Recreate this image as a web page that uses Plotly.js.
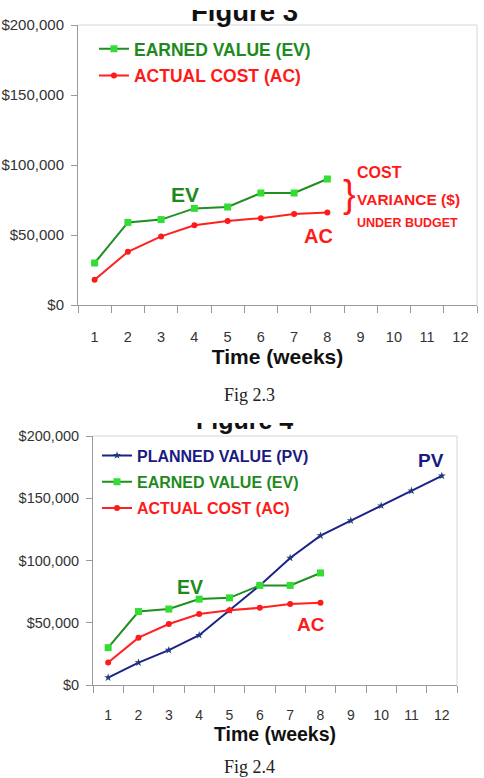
<!DOCTYPE html>
<html>
<head>
<meta charset="utf-8">
<script src="https://cdn.plot.ly/plotly-3.0.1.min.js"></script>
<style>
  html, body { margin: 0; padding: 0; background: #fff; }
  #fig3 { position: absolute; left: 0; top: 10px; width: 484px; height: 402px; overflow: hidden; }
  #fig4 { position: absolute; left: 0; top: 423px; width: 484px; height: 355px; overflow: hidden; }
</style>
</head>
<body>
<div id="fig3"></div>
<div id="fig4"></div>
<script>
// Weekly project cost tracking data
const weeks = ['1', '2', '3', '4', '5', '6', '7', '8', '9', '10', '11', '12'];
const evWeeks = ['1', '2', '3', '4', '5', '6', '7', '8'];
const plannedValue = [6000, 18000, 28000, 40000, 60000, 80000, 102000, 120000, 132000, 144000, 156000, 168000];
const earnedValue = [30000, 59000, 61000, 69000, 70000, 80000, 80000, 90000];
const actualCost = [18000, 38000, 49000, 57000, 60000, 62000, 65000, 66000];
const yTicks = [0, 50000, 100000, 150000, 200000];

const SANS = "'Liberation Sans', Arial, sans-serif";
const SERIF = "'Liberation Serif', 'Times New Roman', serif";
const GREEN_TXT = '#1e8a1e';
const RED = '#ff1a1a';
const NAVY = '#1a1a80';

function evTrace(name) {
  return {
    x: evWeeks, y: earnedValue, type: 'scatter', mode: 'lines+markers',
    name: '<span style="color:' + GREEN_TXT + '">' + name + '</span>', legendgroup: 'ev',
    line: { color: '#1f8f1f', width: 2 },
    marker: { symbol: 'square', size: 7, color: '#33dd33', line: { width: 0 } }
  };
}
function acTrace(name) {
  return {
    x: evWeeks, y: actualCost, type: 'scatter', mode: 'lines+markers',
    name: '<span style="color:' + RED + '">' + name + '</span>', legendgroup: 'ac',
    line: { color: '#ff2020', width: 2 },
    marker: { symbol: 'circle', size: 6, color: '#ff1a1a' }
  };
}
function pvTrace(name) {
  return {
    x: weeks, y: plannedValue, type: 'scatter', mode: 'lines+markers',
    name: '<span style="color:' + NAVY + '">' + name + '</span>', legendgroup: 'pv',
    line: { color: '#1c2386', width: 2 },
    marker: { symbol: 'star', size: 6, color: '#1c3c7a' }
  };
}

function baseAxes(tickSize, yTickSize, titleSize, labelStandoff, titleStandoff) {
  return {
    xaxis: {
      type: 'category', categoryorder: 'array', categoryarray: weeks,
      range: [-0.5, 11.5], tickson: 'boundaries',
      ticks: 'outside', ticklen: 7, tickcolor: '#999', tickwidth: 1,
      showline: true, linecolor: '#999', linewidth: 1,
      showgrid: false, zeroline: false, fixedrange: true,
      ticklabelstandoff: labelStandoff,
      tickfont: { family: SANS, size: tickSize, color: '#333' },
      title: { text: 'Time (weeks)', standoff: titleStandoff,
               font: { family: SANS, size: titleSize, color: '#111', weight: 'bold' } }
    },
    yaxis: {
      range: [0, 200000], tickvals: yTicks, tickformat: '$,.0f',
      ticks: 'outside', ticklen: 6, tickcolor: '#999', tickwidth: 1,
      showline: true, linecolor: '#999', linewidth: 1,
      showgrid: false, zeroline: false, fixedrange: true,
      ticklabelstandoff: 4,
      tickfont: { family: SANS, size: yTickSize, color: '#333' }
    }
  };
}

function frameShapes() {
  return [
    { type: 'line', xref: 'paper', yref: 'paper', x0: 0, x1: 1, y0: 1, y1: 1, line: { color: '#d6d6d6', width: 1 } },
    { type: 'line', xref: 'paper', yref: 'paper', x0: 1, x1: 1, y0: 0, y1: 1, line: { color: '#d6d6d6', width: 1 } }
  ];
}

function textNote(text, x, y, size, color, opts) {
  return Object.assign({
    text: text, x: x, y: y, xref: 'x', yref: 'y', showarrow: false,
    font: { family: SANS, size: size, color: color, weight: 'bold' }
  }, opts || {});
}

// Figure 3: earned value vs actual cost
const axes3 = baseAxes(14.5, 15, 21, 19, 4);
const layout3 = Object.assign({
  width: 484, height: 402,
  margin: { l: 78, r: 7, t: 15, b: 107 },
  paper_bgcolor: '#fff', plot_bgcolor: '#fff',
  showlegend: true,
  legend: {
    x: 0.04, y: 0.979, xanchor: 'left', yanchor: 'top',
    bgcolor: 'rgba(0,0,0,0)', traceorder: 'grouped', tracegroupgap: 1,
    font: { family: SANS, size: 17.5, weight: 'bold' }
  },
  shapes: frameShapes(),
  annotations: [
    { text: 'Figure 3', xref: 'paper', yref: 'paper', x: 0.417, y: 1.047, yanchor: 'middle',
      showarrow: false, font: { family: SANS, size: 27.5, color: '#111', weight: 'bold' } },
    textNote('EV', 2.72, 78900, 21, GREEN_TXT),
    textNote('AC', 6.72, 49600, 20, RED),
    textNote('}', 7.68, 79300, 38, RED, { font: { family: SANS, size: 38, color: RED, weight: 'normal' } }),
    textNote('COST', 7.83, 94600, 16, RED, { xanchor: 'left' }),
    textNote('VARIANCE ($)', 7.83, 75700, 15.5, RED, { xanchor: 'left' }),
    textNote('UNDER BUDGET', 7.83, 58600, 12.5, RED, { xanchor: 'left' }),
    { text: 'Fig 2.3', xref: 'paper', yref: 'paper', x: 0.43, y: -0.32, yanchor: 'middle',
      showarrow: false, font: { family: SERIF, size: 18, color: '#222' } }
  ]
}, axes3);

Plotly.newPlot('fig3', [evTrace('EARNED VALUE (EV)'), acTrace('ACTUAL COST (AC)')], layout3,
  { staticPlot: true, displayModeBar: false });

// Figure 4: planned value, earned value and actual cost
const axes4 = baseAxes(14, 14.5, 19.5, 17, 1);
const layout4 = Object.assign({
  width: 484, height: 355,
  margin: { l: 93, r: 27, t: 13, b: 93 },
  paper_bgcolor: '#fff', plot_bgcolor: '#fff',
  showlegend: true,
  legend: {
    x: 0.011, y: 0.99, xanchor: 'left', yanchor: 'top',
    bgcolor: 'rgba(0,0,0,0)', traceorder: 'grouped', tracegroupgap: 2.5,
    font: { family: SANS, size: 16, weight: 'bold' }
  },
  shapes: frameShapes(),
  annotations: [
    { text: 'Figure 4', xref: 'paper', yref: 'paper', x: 0.417, y: 1.064, yanchor: 'middle',
      showarrow: false, font: { family: SANS, size: 25, color: '#111', weight: 'bold' } },
    textNote('PV', 10.63, 180700, 19, NAVY),
    textNote('EV', 2.7, 78700, 19.5, GREEN_TXT),
    textNote('AC', 6.69, 49000, 19, RED),
    { text: 'Fig 2.4', xref: 'paper', yref: 'paper', x: 0.431, y: -0.329, yanchor: 'middle',
      showarrow: false, font: { family: SERIF, size: 18, color: '#222' } }
  ]
}, axes4);

Plotly.newPlot('fig4', [pvTrace('PLANNED VALUE (PV)'), evTrace('EARNED VALUE (EV)'), acTrace('ACTUAL COST (AC)')], layout4,
  { staticPlot: true, displayModeBar: false });
</script>
</body>
</html>
